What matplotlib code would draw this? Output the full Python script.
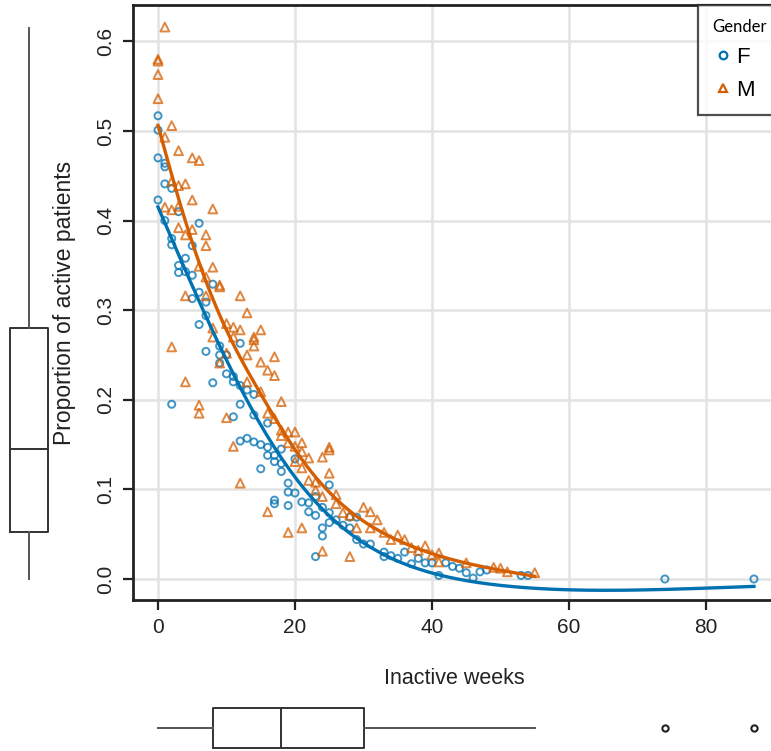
import numpy as np
import matplotlib
matplotlib.use("Agg")
import matplotlib.pyplot as plt
from matplotlib.lines import Line2D
from matplotlib import font_manager

# ---------------- data ----------------
f_weeks = [0, 0, 0, 0, 1, 1, 1, 1, 2, 2, 2, 2, 3, 3, 3, 4, 4, 5, 5, 5, 6, 6, 6,
           7, 7, 7, 8, 8, 9, 9, 9, 10, 10, 11, 11, 11, 12, 12, 12, 12, 13, 13,
           14, 14, 14, 15, 15, 16, 16, 16, 17, 17, 17, 17, 18, 18, 18, 19, 19, 19,
           20, 20, 21, 22, 22, 23, 23, 23, 24, 24, 24, 25, 25, 25, 26, 27, 28, 28,
           29, 29, 30, 31, 33, 33, 34, 35, 36, 37, 38, 39, 40, 41, 42, 43, 44, 45,
           46, 47, 48, 53, 54, 74, 87]
f_prop = [0.517, 0.501, 0.470, 0.423, 0.464, 0.460, 0.441, 0.400, 0.436, 0.380, 0.373, 0.195,
          0.410, 0.350, 0.342, 0.358, 0.343, 0.372, 0.339, 0.313, 0.397, 0.320, 0.284,
          0.309, 0.294, 0.254, 0.329, 0.219, 0.260, 0.250, 0.241, 0.250, 0.229,
          0.226, 0.220, 0.181, 0.263, 0.216, 0.195, 0.154, 0.211, 0.157,
          0.206, 0.183, 0.153, 0.150, 0.123, 0.174, 0.147, 0.138, 0.138, 0.131, 0.088, 0.084,
          0.145, 0.129, 0.120, 0.107, 0.097, 0.082, 0.134, 0.096, 0.086, 0.085, 0.075,
          0.092, 0.071, 0.025, 0.080, 0.057, 0.048, 0.105, 0.074, 0.063, 0.066, 0.060,
          0.069, 0.057, 0.069, 0.044, 0.039, 0.039, 0.030, 0.025, 0.026, 0.023, 0.030,
          0.017, 0.023, 0.018, 0.018, 0.004, 0.018, 0.014, 0.012, 0.007, 0.001, 0.008,
          0.010, 0.004, 0.004, 0.000, 0.000]

m_weeks = [0, 0, 0, 0, 1, 1, 1, 2, 2, 2, 2, 3, 3, 3, 3, 4, 4, 4, 4, 5, 5, 5,
           6, 6, 6, 6, 7, 7, 7, 7, 8, 8, 8, 8, 9, 9, 9, 10, 10, 10, 11, 11, 11,
           12, 12, 12, 13, 13, 13, 14, 14, 14, 15, 15, 15, 16, 16, 16, 17, 17, 17,
           18, 18, 18, 19, 19, 19, 20, 20, 20, 21, 21, 21, 21, 22, 22, 23, 23,
           24, 24, 24, 25, 25, 25, 26, 26, 27, 28, 28, 29, 30, 31, 31, 32, 33, 34,
           35, 36, 37, 38, 39, 40, 41, 41, 45, 49, 50, 51, 55]
m_prop = [0.580, 0.578, 0.563, 0.536, 0.616, 0.493, 0.415, 0.506, 0.444, 0.412, 0.259,
          0.478, 0.439, 0.416, 0.392, 0.441, 0.384, 0.316, 0.220, 0.470, 0.423, 0.390,
          0.467, 0.349, 0.194, 0.185, 0.384, 0.372, 0.337, 0.316, 0.413, 0.348, 0.280, 0.270,
          0.328, 0.326, 0.241, 0.285, 0.252, 0.180, 0.281, 0.270, 0.148,
          0.316, 0.278, 0.107, 0.297, 0.250, 0.220, 0.270, 0.267, 0.260, 0.278, 0.242, 0.209,
          0.233, 0.185, 0.075, 0.248, 0.227, 0.179, 0.198, 0.166, 0.160, 0.164, 0.152, 0.052,
          0.164, 0.148, 0.131, 0.152, 0.142, 0.124, 0.057, 0.135, 0.110, 0.108, 0.099,
          0.136, 0.092, 0.031, 0.147, 0.144, 0.118, 0.094, 0.084, 0.074, 0.071, 0.025,
          0.057, 0.080, 0.075, 0.057, 0.066, 0.052, 0.044, 0.049, 0.044, 0.035, 0.032,
          0.037, 0.027, 0.029, 0.019, 0.018, 0.013, 0.012, 0.008, 0.007]

# marginal box-plot summaries
y_box = dict(med=0.145, q1=0.052, q3=0.280, whislo=0.0, whishi=0.615, fliers=[])
x_box = dict(med=18, q1=8, q3=30, whislo=0, whishi=55, fliers=[74, 87])

x_ticks = [0, 20, 40, 60, 80]
y_ticks = [0.0, 0.1, 0.2, 0.3, 0.4, 0.5, 0.6]
x_label = "Inactive weeks"
y_label = "Proportion of active patients"
groups = ["F", "M"]
legend_title = "Gender"

BLUE = "#0072B2"
ORANGE = "#D55E00"


def bspline_basis(x, xl, xr, nseg=20, deg=3):
    x = np.asarray(x, float)
    dx = (xr - xl) / nseg
    knots = xl + dx * np.arange(-deg, nseg + deg + 1)
    xx = np.clip(x, xl, xr - 1e-9)
    B = np.zeros((len(xx), len(knots) - 1))
    for i in range(len(knots) - 1):
        B[:, i] = (knots[i] <= xx) & (xx < knots[i + 1])
    for k in range(1, deg + 1):
        Bn = np.zeros((len(xx), len(knots) - 1 - k))
        for i in range(len(knots) - 1 - k):
            a = (xx - knots[i]) / (knots[i + k] - knots[i])
            b = (knots[i + k + 1] - xx) / (knots[i + k + 1] - knots[i + 1])
            Bn[:, i] = a * B[:, i] + b * B[:, i + 1]
        B = Bn
    return B


def pspline(x, y, xs, lam_scale=1.0, nseg=20):
    """Penalised cubic regression spline, smoothing chosen by GCV (scaled)."""
    x = np.asarray(x, float)
    y = np.asarray(y, float)
    xl, xr = x.min(), x.max() + 1e-6
    B = bspline_basis(x, xl, xr, nseg)
    D = np.diff(np.eye(B.shape[1]), n=2, axis=0)
    P = D.T @ D
    BtB, Bty = B.T @ B, B.T @ y
    n = len(y)

    def fit(l):
        A = BtB + l * P
        a = np.linalg.solve(A, Bty)
        tr = np.trace(np.linalg.solve(A, BtB))
        rss = np.sum((y - B @ a) ** 2)
        return a, n * rss / (n - tr) ** 2

    grid = np.logspace(-4, 5, 91)
    lam = grid[int(np.argmin([fit(l)[1] for l in grid]))] * lam_scale
    a, _ = fit(lam)
    return bspline_basis(xs, xl, xr, nseg) @ a


# ---------------- fonts ----------------
names = {f.name for f in font_manager.fontManager.ttflist}
narrow = "Liberation Sans Narrow" if "Liberation Sans Narrow" in names else "Liberation Sans"
plt.rcParams["font.family"] = [narrow, "DejaVu Sans"]

W, H = 771, 751
fig = plt.figure(figsize=(W / 100, H / 100), dpi=100)

def fx(px):
    return px / W

def fy(py):
    return 1 - py / H

ax_l, ax_r, ax_t, ax_b = 133, 776, 5, 600
ax = fig.add_axes([fx(ax_l), fy(ax_b), fx(ax_r - ax_l), (ax_b - ax_t) / H])
xlim = ((ax_l - 158) / 6.85, (ax_r - 158) / 6.85)
ylim = ((579 - ax_b) / 896, (579 - ax_t) / 896)
ax.set_xlim(*xlim)
ax.set_ylim(*ylim)

ax.grid(True, color="#e3e3e3", linewidth=1.8)
ax.set_axisbelow(True)

ax.scatter(f_weeks, f_prop, s=26, facecolors="none", edgecolors=BLUE,
           linewidths=1.4, alpha=0.75, marker="o", zorder=3)
ax.scatter(m_weeks, m_prop, s=40, facecolors="none", edgecolors=ORANGE,
           linewidths=1.4, alpha=0.75, marker="^", zorder=3)

xs_f = np.linspace(min(f_weeks), max(f_weeks), 150)
xs_m = np.linspace(min(m_weeks), max(m_weeks), 150)
ax.plot(xs_f, pspline(f_weeks, f_prop, xs_f, lam_scale=8), color=BLUE, lw=2.4, zorder=4)
ax.plot(xs_m, pspline(m_weeks, m_prop, xs_m, lam_scale=2), color=ORANGE, lw=2.4, zorder=4)

ax.set_xticks(x_ticks)
ax.set_yticks(y_ticks)
ax.set_yticklabels([f"{v:.1f}" for v in y_ticks], rotation=90, va="center")
ax.tick_params(axis="both", direction="out", length=7, width=1.6,
               labelsize=15, colors="#222222", labelcolor="#222222", pad=6)
for s in ax.spines.values():
    s.set_linewidth(2.0)
    s.set_color("#222222")

ax.set_xlabel(x_label, fontsize=15.5, color="#222222", labelpad=22)
ax.set_ylabel(y_label, fontsize=16.5, color="#222222", labelpad=14,
              family=["Liberation Sans", "DejaVu Sans"])

# legend
handles = [Line2D([], [], marker="o", ls="none", mec=BLUE, mfc="none", ms=5.5, mew=1.6),
           Line2D([], [], marker="^", ls="none", mec=ORANGE, mfc="none", ms=6, mew=1.6)]
leg = ax.legend(handles, groups, title=legend_title, loc="upper left",
                bbox_to_anchor=((698 - ax_l) / (ax_r - ax_l), 1.0),
                frameon=True, fancybox=False, edgecolor="#222222",
                prop={"family": ["Liberation Sans", "DejaVu Sans"], "size": 16},
                title_fontproperties={"family": ["Lato", "DejaVu Sans"], "size": 12},
                handletextpad=0.1, borderpad=0.62, labelspacing=0.55,
                handlelength=1.0, borderaxespad=0)
leg.get_frame().set_linewidth(1.6)
leg._legend_box.align = "left"

# left marginal boxplot (y)
axl = fig.add_axes([0, fy(ax_b), fx(60), (ax_b - ax_t) / H])
axl.set_ylim(*ylim)
axl.set_xlim(0, 60)
props = dict(color="#333333", linewidth=1.4)
axl.bxp([y_box], positions=[29], widths=38, vert=True, showfliers=False,
        boxprops=props, whiskerprops=dict(color="#555555", linewidth=1.4),
        medianprops=props, capprops=dict(linewidth=0))
axl.axis("off")

# bottom marginal boxplot (x)
axb = fig.add_axes([fx(ax_l), fy(766), fx(ax_r - ax_l), 76 / H])
axb.set_xlim(*xlim)
axb.set_ylim(0, 76)
axb.bxp([x_box], positions=[38], widths=40, vert=False, showfliers=True,
        boxprops=props, whiskerprops=dict(color="#555555", linewidth=1.4),
        medianprops=props, capprops=dict(linewidth=0),
        flierprops=dict(marker="o", mfc="none", mec="#222222", ms=4.5, mew=1.5))
axb.axis("off")

fig.savefig("out.png", dpi=100)
